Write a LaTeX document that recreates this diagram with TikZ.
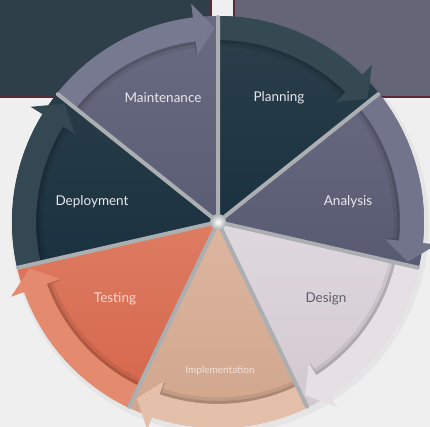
\documentclass[tikz,border=0pt]{standalone}
\usepackage{fontspec}
\setmainfont{Lato}
\usetikzlibrary{positioning}

\definecolor{pagebg}{HTML}{EFEFEF}
\definecolor{topdark}{HTML}{2F3F4A}
\definecolor{topgrey}{HTML}{646678}
\definecolor{rimred}{HTML}{5A2A3A}
\definecolor{gapgrey}{HTML}{ABAFB2}
\definecolor{planA}{HTML}{2C404B}\definecolor{planB}{HTML}{1A3140}\definecolor{planC}{HTML}{354952}
\definecolor{anaA}{HTML}{676981}\definecolor{anaB}{HTML}{585A72}\definecolor{anaC}{HTML}{72748C}
\definecolor{desA}{HTML}{DFD8DE}\definecolor{desB}{HTML}{D2C9D0}\definecolor{desC}{HTML}{E6E0E5}
\definecolor{impA}{HTML}{DDB6A0}\definecolor{impB}{HTML}{D0A48B}\definecolor{impC}{HTML}{E4BFA9}
\definecolor{tesA}{HTML}{DE7C62}\definecolor{tesB}{HTML}{D4664B}\definecolor{tesC}{HTML}{E38A6F}
\definecolor{depA}{HTML}{283C48}\definecolor{depB}{HTML}{1A313F}\definecolor{depC}{HTML}{334853}
\definecolor{maiA}{HTML}{696B82}\definecolor{maiB}{HTML}{5B5D74}\definecolor{maiC}{HTML}{777990}
\definecolor{lighttext}{HTML}{E8E8EE}
\definecolor{darktext}{HTML}{5E5E6E}

\newcommand{\phasewedge}[4]{%
  \pgfmathsetmacro{\wedgestart}{#1-51.4286}%
  \shade[top color=#2,bottom color=#3] (0,0) -- (#1:206)
    arc[start angle=#1,end angle=\wedgestart,radius=206] -- cycle;%
  \draw[black,opacity=.07,line width=7] (#1-0.6:179)
    arc[start angle=#1-0.6,end angle=\wedgestart+7,radius=179];%
  \draw[black,opacity=.12,line width=3] (#1-0.6:180.5)
    arc[start angle=#1-0.6,end angle=\wedgestart+7,radius=180.5] -- (\wedgestart+7:169);%
  \fill[#4] (#1-0.6:206) arc[start angle=#1-0.6,end angle=\wedgestart+7,radius=206]
    -- (\wedgestart+7:220) -- (\wedgestart+1:194) -- (\wedgestart+7:168)
    -- (\wedgestart+7:182) arc[start angle=\wedgestart+7,end angle=#1-0.6,radius=182] -- cycle;%
}

\begin{document}
\begin{tikzpicture}[x=1pt,y=1pt,
    phase/.style={text=lighttext,font=\fontsize{13.5}{16}\selectfont},
    gapline/.style={gapgrey,line width=4,line cap=round}]
  \useasboundingbox (0,0) rectangle (430,427);
  \fill[pagebg] (0,0) rectangle (430,427);

  \fill[topdark] (0,330) rectangle (211,427);
  \draw[rimred,line width=1.2] (0,330) -- (211,330) -- (211,427);
  \fill[topgrey] (234,330) rectangle (430,427);
  \draw[rimred,line width=1.2] (430,330) -- (234,330) -- (234,427);

  \begin{scope}[shift={(218,205)}]
    \fill[black,opacity=.04] (2,-3) circle (209);
    \phasewedge{90}{planA}{planB}{planC}
    \phasewedge{38.5714}{anaA}{anaB}{anaC}
    \phasewedge{-12.8571}{desA}{desB}{desC}
    \phasewedge{-64.2857}{impA}{impB}{impC}
    \phasewedge{-115.7143}{tesA}{tesB}{tesC}
    \phasewedge{192.8571}{depA}{depB}{depC}
    \phasewedge{141.4286}{maiA}{maiB}{maiC}
    \draw[gapline] (0,0) -- (90:205) (0,0) -- (38.5714:205) (0,0) -- (-12.8571:205)
      (0,0) -- (-64.2857:205) (0,0) -- (-115.7143:205) (0,0) -- (192.8571:205)
      (0,0) -- (141.4286:205);
    \shade[inner color=white,outer color=gapgrey] (0,0) circle (8);
  \end{scope}

  \node[phase] (planning) at (279,329) {Planning};
  \node[phase] (analysis) at (348,225) {Analysis};
  \node[phase,text=darktext] (design) at (326,128) {Design};
  \node[phase,font=\fontsize{10}{12}\selectfont,text=impA!40!white] (implementation) at (220,56) {Implementation};
  \node[phase,text=tesA!30!white] (testing) at (115,128) {Testing};
  \node[phase] (deployment) at (92,225) {Deployment};
  \node[phase] (maintenance) at (163,329) {Maintenance};
\end{tikzpicture}
\end{document}
